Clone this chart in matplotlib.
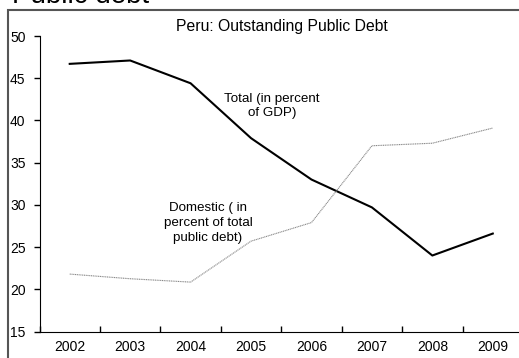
import matplotlib.pyplot as plt
from matplotlib.patches import Rectangle

plt.rcParams['font.family'] = ['Liberation Sans', 'DejaVu Sans']

# Data
years = ["2002", "2003", "2004", "2005", "2006", "2007", "2008", "2009"]
total_gdp = [46.7, 47.1, 44.4, 37.9, 33.0, 29.7, 24.0, 26.6]
domestic_share = [21.8, 21.25, 20.85, 25.7, 27.9, 37.0, 37.3, 39.1]

W, H = 519, 358
fig = plt.figure(figsize=(W / 100, H / 100), dpi=100)

# outer frame and the clipped heading above it
fig.patches.append(Rectangle((8 / W, -0.1), 1.2, 1 - 10 / H + 0.1,
                             transform=fig.transFigure, fill=False,
                             edgecolor='#555555', linewidth=1.5))
fig.text(12 / W, 1 - 3 / H, "Public debt", fontsize=20, va='baseline', ha='left')

ax = fig.add_axes([39.5 / W, 1 - 331.5 / H, 483.5 / W, 295.5 / H])
x = [i + 0.5 for i in range(len(years))]
ax.plot(x, total_gdp, color='black', linewidth=1.5)
ax.plot(x, domestic_share, color='#888888', linewidth=0.8, linestyle=(0, (1, 0.6)))

ax.set_xlim(0, len(years))
ax.set_ylim(15, 50)
ax.set_yticks(range(15, 51, 5))
ax.set_xticks(range(len(years) + 1))
ax.set_xticklabels([])
ax.set_xticks(x, minor=True)
ax.set_xticklabels(years, minor=True)
ax.tick_params(axis='x', which='major', direction='in', length=4, width=1)
ax.tick_params(axis='x', which='minor', length=0, pad=6, labelsize=10)
ax.tick_params(axis='y', direction='out', length=4, width=1, labelsize=10, pad=6)

for s in ['top', 'right']:
    ax.spines[s].set_visible(False)
ax.spines['left'].set_color('black')
ax.spines['bottom'].set_color('black')

ax.text(282 / W, 1 - 27 / H, "Peru: Outstanding Public Debt", transform=fig.transFigure,
        ha='center', va='center', fontsize=11.3)
ax.text(272 / W, 1 - 106 / H, "Total (in percent\nof GDP)", transform=fig.transFigure,
        ha='center', va='center', fontsize=9.6, linespacing=1.3)
ax.text(208 / W, 1 - 223 / H, "Domestic ( in\npercent of total\npublic debt)",
        transform=fig.transFigure, ha='center', va='center', fontsize=9.6, linespacing=1.3)

fig.savefig("out.png", dpi=100)
